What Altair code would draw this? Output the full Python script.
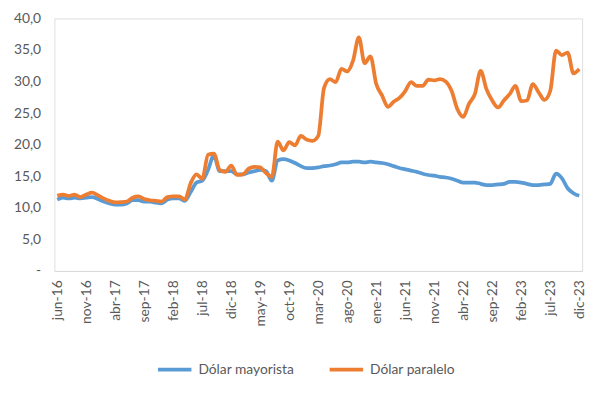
import altair as alt
import pandas as pd

month_names = ["ene", "feb", "mar", "abr", "may", "jun", "jul", "ago", "sep", "oct", "nov", "dic"]
months = []
for year in range(2016, 2024):
    for m, name in enumerate(month_names):
        if year == 2016 and m < 5:
            continue
        months.append(f"{name}-{str(year)[2:]}")

shown_labels = ["jun-16", "nov-16", "abr-17", "sep-17", "feb-18", "jul-18", "dic-18",
                "may-19", "oct-19", "mar-20", "ago-20", "ene-21", "jun-21", "nov-21",
                "abr-22", "sep-22", "feb-23", "jul-23", "dic-23"]

mayorista = [11.3, 11.6, 11.5, 11.6, 11.5, 11.6, 11.7, 11.4, 11.0, 10.7,
             10.5, 10.5, 10.7, 11.2, 11.2, 11.0, 11.0, 10.8, 10.7, 11.3,
             11.5, 11.5, 11.1, 12.5, 14.0, 14.3, 16.0, 18.3, 15.8, 15.8,
             15.8, 15.3, 15.3, 15.6, 15.8, 16.0, 15.8, 14.3, 17.5, 17.7,
             17.5, 17.1, 16.6, 16.3, 16.3, 16.4, 16.6, 16.7, 16.9, 17.2,
             17.2, 17.3, 17.3, 17.2, 17.3, 17.2, 17.1, 16.9, 16.6, 16.3,
             16.1, 15.9, 15.7, 15.4, 15.2, 15.1, 14.9, 14.8, 14.6, 14.3,
             14.0, 14.0, 14.0, 13.8, 13.6, 13.6, 13.7, 13.8, 14.1, 14.1,
             14.0, 13.8, 13.6, 13.6, 13.7, 13.8, 15.4, 14.7, 13.1, 12.3,
             11.9]

paralelo = [11.9, 12.1, 11.9, 12.1, 11.7, 12.1, 12.4, 12.0, 11.5, 11.1,
            10.85, 10.9, 11.0, 11.6, 11.8, 11.4, 11.2, 11.1, 11.0, 11.7,
            11.8, 11.8, 11.3, 13.9, 15.3, 14.6, 18.4, 18.6, 16.0, 15.7,
            16.7, 15.2, 15.3, 16.2, 16.5, 16.4, 15.5, 14.9, 20.5, 19.1,
            20.4, 19.9, 21.4, 20.8, 20.6, 21.4, 29.0, 30.4, 29.9, 32.0,
            31.6, 33.3, 37.0, 32.9, 34.0, 29.6, 27.8, 26.0, 26.8, 27.4,
            28.5, 29.9, 29.3, 29.3, 30.3, 30.2, 30.4, 30.0, 28.5, 25.6,
            24.4, 26.5, 28.0, 31.7, 28.8, 27.0, 25.9, 27.0, 28.0, 29.3,
            26.9, 27.0, 29.6, 28.3, 27.1, 28.5, 34.9, 34.2, 34.6, 31.3,
            32.0]

series_names = ["Dólar mayorista", "Dólar paralelo"]
series_colors = ["#5B9BD5", "#ED7D31"]

rows = []
for i, mth in enumerate(months):
    rows.append({"mes": mth, "serie": series_names[0], "valor": mayorista[i], "orden": 0})
    rows.append({"mes": mth, "serie": series_names[1], "valor": paralelo[i], "orden": 1})
df = pd.DataFrame(rows)

FONT = "Lato"
GREY = "#595959"

chart = alt.Chart(df).mark_line(strokeWidth=3.8, interpolate="monotone").encode(
    x=alt.X("mes:O", sort=months, title=None,
            scale=alt.Scale(type="point", padding=0.5),
            axis=alt.Axis(values=shown_labels, labelAngle=-90, ticks=False,
                          domainColor="#D9D9D9", domainWidth=1, labelPadding=9,
                          labelFontSize=14, labelColor=GREY, labelFont=FONT, grid=False)),
    y=alt.Y("valor:Q", title=None,
            scale=alt.Scale(domain=[0, 40], nice=False),
            axis=alt.Axis(values=[0, 5, 10, 15, 20, 25, 30, 35, 40], domain=False, ticks=False,
                          grid=False, labelPadding=14, labelFontSize=14, labelColor=GREY,
                          labelFont=FONT,
                          labelExpr="datum.value == 0 ? '-' : replace(format(datum.value, '.1f'), '.', ',')")),
    color=alt.Color("serie:N", scale=alt.Scale(domain=series_names, range=series_colors),
                    legend=alt.Legend(title=None, orient="none", direction="horizontal",
                                      legendX=103, legendY=337, symbolType="stroke",
                                      symbolSize=1150, symbolStrokeWidth=4, labelOffset=5,
                                      columnPadding=27, labelFontSize=14, labelColor=GREY,
                                      labelFont=FONT)),
    order="orden:Q",
).properties(
    width=535, height=256,
    autosize=alt.AutoSizeParams(type="none"),
    padding={"left": 47, "top": 8, "right": 10, "bottom": 110},
).configure_view(stroke=None).configure(background="white")

chart.save("out.html", embed_options={"renderer": "svg", "actions": False})
